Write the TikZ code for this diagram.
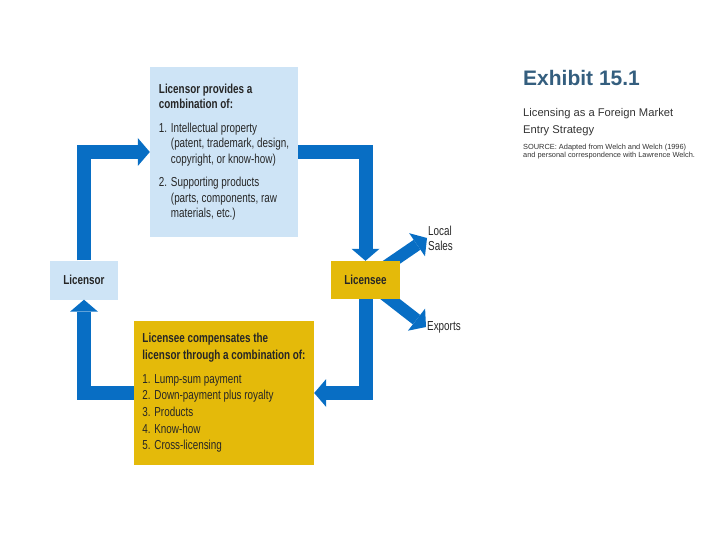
\documentclass[tikz,border=0pt]{standalone}
\usepackage{fontspec}
\setmainfont{Liberation Sans}[FakeStretch=0.76]
\newfontfamily\titlefont{Liberation Sans}
\usetikzlibrary{arrows.meta,backgrounds}

\definecolor{flowblue}{RGB}{8,110,196}
\definecolor{paleblue}{RGB}{206,228,246}
\definecolor{gold}{RGB}{228,186,10}
\definecolor{slate}{RGB}{52,94,126}

\newcommand\nr[1]{\makebox[12pt][l]{#1}}

\begin{document}
\begin{tikzpicture}[x=1pt,y=-1pt,
    flow/.style={draw=flowblue,line width=14pt,line join=miter,
      -{Triangle[width=28pt,length=12pt,line width=0pt]}},
    box/.style={inner sep=0pt,align=left,text=black!85}]
\useasboundingbox (0,0) rectangle (720,540);

\node[box,fill=paleblue,minimum width=148pt,minimum height=170pt,
      font=\fontsize{13}{15.5}\selectfont]
  (provides) at (224,152)
  {\textbf{Licensor provides a}\\\textbf{combination of:}\\[8pt]
   \nr{1.}Intellectual property\\
   \nr{}(patent, trademark, design,\\
   \nr{}copyright, or know-how)\\[8pt]
   \nr{2.}Supporting products\\
   \nr{}(parts, components, raw\\
   \nr{}materials, etc.)};

\node[box,fill=gold,minimum width=180pt,minimum height=144pt,
      font=\fontsize{13}{16.7}\selectfont]
  (compensates) at (224,393)
  {\textbf{Licensee compensates the}\\\textbf{licensor through a combination of:}\\[7pt]
   1. Lump-sum payment\\
   2. Down-payment plus royalty\\
   3. Products\\
   4. Know-how\\
   5. Cross-licensing};

\node[box,fill=paleblue,minimum width=68pt,minimum height=39pt,
      font=\fontsize{13}{14}\selectfont\bfseries] (licensor) at (84,280) {Licensor};
\node[box,fill=gold,minimum width=69pt,minimum height=38pt,
      font=\fontsize{13}{14}\selectfont\bfseries] (licensee) at (365.5,280) {Licensee};

\node[anchor=west,inner sep=1pt,align=left,text=black!85,
      font=\fontsize{13}{15}\selectfont] (sales) at (427,238) {Local\\Sales};
\node[anchor=west,inner sep=1pt,text=black!85,
      font=\fontsize{13}{14}\selectfont] (exports) at (426,327) {Exports};

% the licence cycle
\draw[flow] (licensor.north) |- (provides.west);
\draw[flow] (provides.east) -| (licensee.north);
\draw[flow] (licensee.south) |- (compensates.east);
\draw[flow] (compensates.west) -| (licensor.south);

\begin{scope}[on background layer]
  \draw[flow,line width=12pt] (licensee.center) -- (sales.west);
  \draw[flow,line width=12pt] (licensee.center) -- (exports.west);
\end{scope}

% caption
\node[anchor=west,inner sep=0pt,text=slate,font=\titlefont\fontsize{21}{24}\selectfont\bfseries]
  (exhibit) at (523,78) {Exhibit 15.1};
\node[anchor=north west,inner sep=0pt,align=left,text=black!80,
      font=\titlefont\fontsize{11.2}{17}\selectfont] (subtitle) at (523,108)
  {Licensing as a Foreign Market\\Entry Strategy};
\node[anchor=north west,inner sep=0pt,align=left,text=black!80,
      font=\titlefont\fontsize{7.4}{7.8}\selectfont] (source) at (523,144)
  {SOURCE: Adapted from Welch and Welch (1996)\\and personal correspondence with Lawrence Welch.};
\end{tikzpicture}
\end{document}
